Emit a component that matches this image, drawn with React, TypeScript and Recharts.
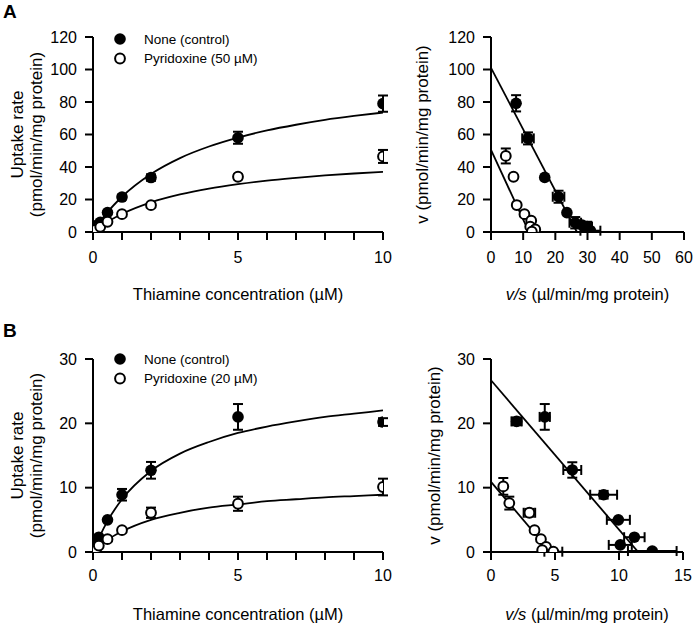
import React from 'react';
import { ComposedChart, Scatter, Line, XAxis, YAxis, ErrorBar, Legend } from 'recharts';

const FONT = '"Liberation Sans", Arial, Helvetica, sans-serif';

// ---- Panel A (pyridoxine 50 µM) : uptake vs thiamine ----
const concCtrlA = [0.025, 0.1, 0.15, 0.25, 0.5, 1, 2, 5, 10];
const uptakeCtrlA = [0.8, 3.2, 4.3, 6, 12, 21.5, 33.5, 58, 79];
const uptakeCtrlAErr = [null, null, null, null, null, 1.5, 2, 3.7, 5];
const concPyrA = [0.025, 0.1, 0.25, 0.5, 1, 2, 5, 10];
const uptakePyrA = [0.3, 1.5, 3.2, 6.3, 11, 16.5, 34, 46.5];
const uptakePyrAErr = [null, null, null, null, null, 1, 1.5, 4];

// fitted curves
const fitConc = [0, 0.25, 0.5, 1, 2, 3, 4, 5, 6, 7, 8, 9, 10];
const fitCtrlA = [0, 6.5, 12.2, 21.7, 35.7, 45.5, 52.6, 58.1, 62.5, 66, 69, 71.4, 73.5];
const fitPyrA = [0, 3.3, 6.3, 11.1, 18.2, 23.1, 26.7, 29.4, 31.6, 33.3, 34.8, 36, 37];

// ---- Panel A : Eadie-Hofstee ----
const vsCtrlA = [7.8, 11.5, 16.7, 21.0, 23.6, 26.2, 28.3, 29.9, 30.9];
const vCtrlA = [79.2, 57.6, 33.6, 21.7, 11.9, 5.7, 4.3, 3.3, 0.8];
const vCtrlAErr = [5, 3.7, null, 3.7, null, 3.5, null, 3, null];
const vsCtrlAErr = [null, 1.8, null, 1.8, null, 1.8, null, 1.5, 3.1];
const vsPyrA = [4.6, 7.0, 8.0, 10.4, 12.5, 12.2, 13.75, 12.7];
const vPyrA = [46.8, 34, 16.6, 11, 7, 3.3, 1.6, 0.2];
const vPyrAErr = [4.6, null, null, null, null, null, null, null];
const ehLineX_CtrlA = [0, 26.7];
const ehLineY_CtrlA = [101, 0];
const ehLineX_PyrA = [0, 11.8];
const ehLineY_PyrA = [50.5, 0];

// ---- Panel B (pyridoxine 20 µM) : uptake vs thiamine ----
const concB = [0.025, 0.1, 0.2, 0.5, 1, 2, 5, 10];
const uptakeCtrlB = [0.15, 1.1, 2.3, 5.0, 8.9, 12.7, 21.0, 20.2];
const uptakeCtrlBErr = [null, null, null, null, 0.9, 1.3, 2, 0.6];
const uptakePyrB = [0.05, 0.4, 1.0, 2.0, 3.4, 6.1, 7.5, 10.1];
const uptakePyrBErr = [null, null, null, null, null, 0.8, 1.1, 1.3];
const fitCtrlB = [0, 2.6, 4.8, 8.2, 12.6, 15.3, 17.1, 18.5, 19.5, 20.3, 21, 21.5, 22];
const fitPyrB = [0, 1.0, 1.9, 3.2, 5.0, 6.1, 6.9, 7.4, 7.9, 8.2, 8.5, 8.7, 8.9];

// ---- Panel B : Eadie-Hofstee ----
const vsCtrlB = [2.0, 4.2, 6.35, 8.8, 9.95, 11.2, 10.1, 12.6];
const vCtrlB = [20.3, 21.0, 12.75, 8.9, 5.0, 2.3, 1.1, 0.15];
const vCtrlBErr = [0.6, 2, 1.2, 0.6, null, null, null, null];
const vsCtrlBErr = [0.4, 0.4, 0.7, 1.05, 0.9, 0.8, 0.9, 1.9];
const vsPyrB = [0.96, 1.43, 3.0, 3.4, 3.9, 4.3, 4.0, 4.87];
const vPyrB = [10.2, 7.6, 6.1, 3.4, 2.0, 0.8, 0.3, 0.05];
const vPyrBErr = [1.3, 1, 0.6, null, null, null, null, null];
const vsPyrBErr = [null, null, 0.45, null, null, null, null, 0.7];
const ehLineX_CtrlB = [0, 11.5];
const ehLineY_CtrlB = [26.7, 0];
const ehLineX_PyrB = [0, 4.65];
const ehLineY_PyrB = [10.9, 0];

const controlLabel = 'None (control)';
const pyrLabelA = 'Pyridoxine (50 µM)';
const pyrLabelB = 'Pyridoxine (20 µM)';

const pts = (xs: number[], ys: number[], eys?: (number | null)[], exs?: (number | null)[]) =>
  xs.map((x, i) => ({ x, y: ys[i], ey: eys ? eys[i] : null, ex: exs ? exs[i] : null }));

const marker = (filled: boolean) => (p: any) => {
  if (p.cx == null || p.cy == null) return <g />;
  return filled ? (
    <circle cx={p.cx} cy={p.cy} r={5.8} fill="#000" />
  ) : (
    <circle cx={p.cx} cy={p.cy} r={4.9} fill="#fff" stroke="#000" strokeWidth={2} />
  );
};

function LegendBox({ rows }: { rows: { name: string; filled: boolean }[] }) {
  return (
    <svg width={220} height={44} style={{ display: 'block' }}>
      {rows.map((r, i) => (
        <g key={r.name}>
          {r.filled ? (
            <circle cx={10} cy={11 + i * 19.5} r={5.8} fill="#000" />
          ) : (
            <circle cx={10} cy={11 + i * 19.5} r={4.9} fill="#fff" stroke="#000" strokeWidth={2} />
          )}
          <text x={34} y={11 + i * 19.5} dominantBaseline="central" fontSize={13.5} fontFamily={FONT} fill="#000">
            {r.name}
          </text>
        </g>
      ))}
    </svg>
  );
}

type Series = { points: any[]; fit: any[]; filled: boolean; fitType: 'monotone' | 'linear' };

const TICK_LEN = 8;

function Panel(props: any) {
  const { box, plot, xDomain, xTicks, xShown, yDomain, yTicks, series, xTitle, xTitleY, yTitles, legendRows, tickGap } = props;
  const axisH = 30;
  const margin = {
    top: plot.t - box.top,
    right: box.left + box.width - plot.r,
    left: 0,
    bottom: box.top + box.height - plot.b - axisH,
  };
  const cx = (plot.l + plot.r) / 2 - box.left;
  const cy = (plot.t + plot.b) / 2 - box.top;
  const axisY = plot.b - box.top;
  const axisStyle = { stroke: '#000', strokeWidth: 2 };

  // x tick: own tick mark for every value, label only where shown
  const xTick = (p: any) => {
    const v = p.payload.value;
    return (
      <g>
        <line x1={p.x} x2={p.x} y1={axisY} y2={axisY + TICK_LEN} stroke="#000" strokeWidth={2} />
        {xShown.includes(v) && (
          <text x={p.x} y={axisY + TICK_LEN + tickGap} dy="0.71em" textAnchor="middle" fontSize={16} fontFamily={FONT} fill="#000">
            {v}
          </text>
        )}
      </g>
    );
  };

  return (
    <div style={{ position: 'absolute', left: box.left, top: box.top }}>
      <ComposedChart width={box.width} height={box.height} margin={margin}>
        <XAxis
          type="number"
          dataKey="x"
          domain={xDomain}
          ticks={xTicks}
          interval={0}
          allowDataOverflow
          height={axisH}
          tickSize={TICK_LEN}
          tickMargin={tickGap}
          axisLine={axisStyle}
          tickLine={false}
          tick={xTick}
          label={() => (
            <text x={cx} y={xTitleY - box.top} textAnchor="middle" dominantBaseline="central" fontSize={16.5} fontFamily={FONT} fill="#000">
              {xTitle}
            </text>
          )}
        />
        <YAxis
          type="number"
          dataKey="y"
          domain={yDomain}
          ticks={yTicks}
          interval={0}
          allowDataOverflow
          width={plot.l - box.left}
          tickSize={TICK_LEN}
          tickMargin={8}
          axisLine={axisStyle}
          tickLine={axisStyle}
          tick={{ fill: '#000', fontSize: 16, fontFamily: FONT }}
          label={() => (
            <g>
              {yTitles.map((t: any, i: number) => (
                <text
                  key={i}
                  transform={`translate(${t.x - box.left},${cy}) rotate(-90)`}
                  textAnchor="middle"
                  dominantBaseline="central"
                  fontSize={17}
                  fontFamily={FONT}
                  fill="#000"
                >
                  {t.content}
                </text>
              ))}
            </g>
          )}
        />
        {series.map((s: Series, i: number) => (
          <Line
            key={'f' + i}
            data={s.fit}
            dataKey="y"
            type={s.fitType}
            dot={false}
            activeDot={false}
            stroke="#000"
            strokeWidth={1.8}
            isAnimationActive={false}
            legendType="none"
          />
        ))}
        {series.map((s: Series, i: number) => (
          <Scatter key={'s' + i} data={s.points} dataKey="y" shape={marker(s.filled)} isAnimationActive={false} legendType="none">
            <ErrorBar dataKey="ey" direction="y" width={5} stroke="#000" strokeWidth={2} />
            <ErrorBar dataKey="ex" direction="x" width={5} stroke="#000" strokeWidth={2} />
          </Scatter>
        ))}
        {legendRows && (
          <Legend
            layout="vertical"
            align="center"
            verticalAlign="middle"
            wrapperStyle={{ left: 110, top: 28, width: 220, height: 44 }}
            content={() => <LegendBox rows={legendRows} />}
          />
        )}
      </ComposedChart>
    </div>
  );
}

const vTitle = 'v (pmol/min/mg protein)';
const vsTitle = (
  <>
    <tspan fontStyle="italic">v/s</tspan> (µl/min/mg protein)
  </>
);
const uptakeTitles = [
  { x: 17, content: 'Uptake rate' },
  { x: 36, content: '(pmol/min/mg protein)' },
];

export default function App() {
  const concTicks = [0, 1, 2, 3, 4, 5, 6, 7, 8, 9, 10];
  return (
    <div style={{ position: 'absolute', left: 0, top: 0, width: 693, height: 624, background: '#fff', fontFamily: FONT }}>
      <div style={{ position: 'absolute', left: 3, top: 1, fontSize: 19, fontWeight: 'bold' }}>A</div>
      <div style={{ position: 'absolute', left: 3, top: 320, fontSize: 19, fontWeight: 'bold' }}>B</div>

      <Panel
        box={{ left: 0, top: 0, width: 400, height: 320 }}
        plot={{ l: 93, r: 383, t: 37, b: 232 }}
        xDomain={[0, 10]}
        xTicks={concTicks}
        xShown={[0, 5, 10]}
        yDomain={[0, 120]}
        yTicks={[0, 20, 40, 60, 80, 100, 120]}
        tickGap={12}
        xTitle="Thiamine concentration (µM)"
        xTitleY={294}
        yTitles={uptakeTitles}
        legendRows={[
          { name: controlLabel, filled: true },
          { name: pyrLabelA, filled: false },
        ]}
        series={[
          { points: pts(concCtrlA, uptakeCtrlA, uptakeCtrlAErr), fit: pts(fitConc, fitCtrlA), filled: true, fitType: 'monotone' },
          { points: pts(concPyrA, uptakePyrA, uptakePyrAErr), fit: pts(fitConc, fitPyrA), filled: false, fitType: 'monotone' },
        ]}
      />
      <Panel
        box={{ left: 400, top: 0, width: 293, height: 320 }}
        plot={{ l: 491, r: 684, t: 37, b: 232 }}
        xDomain={[0, 60]}
        xTicks={[0, 10, 20, 30, 40, 50, 60]}
        xShown={[0, 10, 20, 30, 40, 50, 60]}
        yDomain={[0, 120]}
        yTicks={[0, 20, 40, 60, 80, 100, 120]}
        tickGap={12}
        xTitle={vsTitle}
        xTitleY={294}
        yTitles={[{ x: 422, content: vTitle }]}
        series={[
          { points: pts(vsCtrlA, vCtrlA, vCtrlAErr, vsCtrlAErr), fit: pts(ehLineX_CtrlA, ehLineY_CtrlA), filled: true, fitType: 'linear' },
          { points: pts(vsPyrA, vPyrA, vPyrAErr), fit: pts(ehLineX_PyrA, ehLineY_PyrA), filled: false, fitType: 'linear' },
        ]}
      />
      <Panel
        box={{ left: 0, top: 320, width: 400, height: 304 }}
        plot={{ l: 93, r: 383, t: 359, b: 552 }}
        xDomain={[0, 10]}
        xTicks={concTicks}
        xShown={[0, 5, 10]}
        yDomain={[0, 30]}
        yTicks={[0, 10, 20, 30]}
        tickGap={10}
        xTitle="Thiamine concentration (µM)"
        xTitleY={614}
        yTitles={uptakeTitles}
        legendRows={[
          { name: controlLabel, filled: true },
          { name: pyrLabelB, filled: false },
        ]}
        series={[
          { points: pts(concB, uptakeCtrlB, uptakeCtrlBErr), fit: pts(fitConc, fitCtrlB), filled: true, fitType: 'monotone' },
          { points: pts(concB, uptakePyrB, uptakePyrBErr), fit: pts(fitConc, fitPyrB), filled: false, fitType: 'monotone' },
        ]}
      />
      <Panel
        box={{ left: 400, top: 320, width: 293, height: 304 }}
        plot={{ l: 491, r: 683, t: 359, b: 552 }}
        xDomain={[0, 15]}
        xTicks={[0, 5, 10, 15]}
        xShown={[0, 5, 10, 15]}
        yDomain={[0, 30]}
        yTicks={[0, 10, 20, 30]}
        tickGap={10}
        xTitle={vsTitle}
        xTitleY={614}
        yTitles={[{ x: 434, content: vTitle }]}
        series={[
          { points: pts(vsCtrlB, vCtrlB, vCtrlBErr, vsCtrlBErr), fit: pts(ehLineX_CtrlB, ehLineY_CtrlB), filled: true, fitType: 'linear' },
          { points: pts(vsPyrB, vPyrB, vPyrBErr, vsPyrBErr), fit: pts(ehLineX_PyrB, ehLineY_PyrB), filled: false, fitType: 'linear' },
        ]}
      />
    </div>
  );
}
